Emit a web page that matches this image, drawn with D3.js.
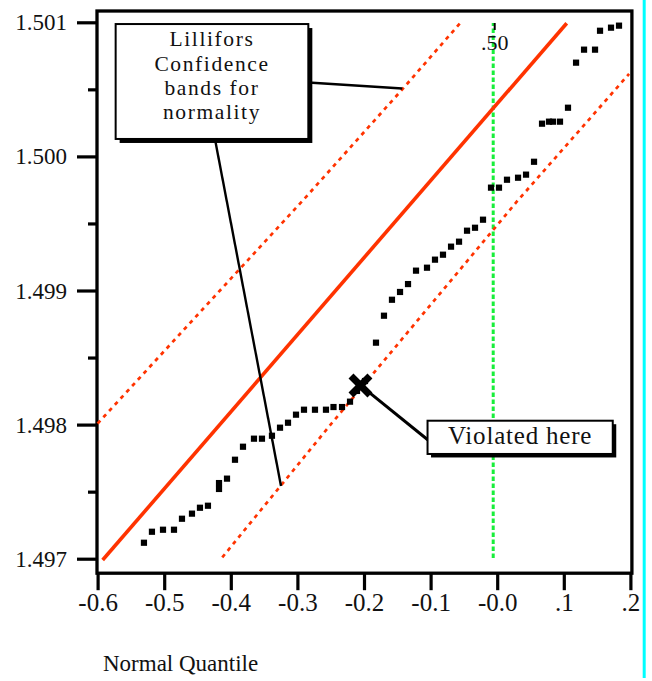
<!DOCTYPE html>
<html>
<head>
<meta charset="utf-8">
<script src="https://cdn.jsdelivr.net/npm/d3@7"></script>
<style>
  html, body { margin: 0; padding: 0; background: #ffffff; }
  svg { display: block; }
</style>
</head>
<body>
<script>
// ---------------- DATA ----------------
const quantiles = [-0.5304,-0.5184,-0.5018,-0.4853,-0.4733,-0.4583,-0.4463,-0.4343,-0.4177,-0.4177,
  -0.4057,-0.3937,-0.3817,-0.3652,-0.3532,-0.3382,-0.3261,-0.3141,-0.3021,-0.2901,
  -0.2736,-0.2571,-0.2458,-0.2330,-0.2210,-0.2105,-0.1985,-0.1820,-0.1700,-0.1580,
  -0.1459,-0.1339,-0.1219,-0.1054,-0.0934,-0.0814,-0.0693,-0.0573,-0.0453,-0.0333,
  -0.0213,-0.0093,0.0027,0.0147,0.0313,0.0433,0.0553,0.0673,0.0778,0.0838,
  0.0943,0.1063,0.1184,0.1304,0.1469,0.1544,0.1709,0.1829];
const values = [1.497119,1.497201,1.497216,1.497216,1.497298,1.497336,1.497380,1.497395,1.497520,1.497564,
  1.497597,1.497738,1.497835,1.497895,1.497895,1.497917,1.497977,1.498014,1.498074,1.498111,
  1.498111,1.498111,1.498131,1.498131,1.498171,1.498251,1.498325,1.498611,1.498812,1.498931,
  1.498989,1.499048,1.499148,1.499170,1.499230,1.499267,1.499327,1.499364,1.499446,1.499468,
  1.499528,1.499767,1.499767,1.499826,1.499841,1.499864,1.499960,1.500244,1.500259,1.500259,
  1.500259,1.500363,1.500699,1.500796,1.500796,1.500937,1.500960,1.500975];

// reference (fitted normal) line
const fitX = [-0.5924, 0.1044];
const fitY = [1.496990, 1.500993];
// Lillifors confidence bands
const upperBandX = [-0.6, -0.2912, -0.1425, -0.0558];
const upperBandY = [1.498008, 1.499675, 1.500500, 1.500993];
const lowerBandX = [-0.4128, -0.2485, 0.0293, 0.1980];
const lowerBandY = [1.497010, 1.498010, 1.499662, 1.500615];
// median (.50) reference line
const medianX = -0.006;
const medianY = [1.497005, 1.500995];
const medianLabel = ".50";
// highlighted violation point
const violX = -0.2053, violY = 1.498292;

const xTickVals = [-0.6,-0.5,-0.4,-0.3,-0.2,-0.1,0,0.1,0.2];
const xTickLabels = ["-0.6","-0.5","-0.4","-0.3","-0.2","-0.1","-0.0",".1",".2"];
const yTickVals = [1.497,1.498,1.499,1.500,1.501];
const yTickLabels = ["1.497","1.498","1.499","1.500","1.501"];
const yMinorTicks = [1.4975,1.4985,1.4995,1.5005];
const xTitle = "Normal Quantile";

const box1Lines = ["Lillifors","Confidence","bands for","normality"];
const box1 = {x0:-0.5729, y0:1.500987, x1:-0.2836, y1:1.500130};
const box1Leaders = [
  {x1:-0.2836, y1:1.500551, x2:-0.1425, y2:1.500506},
  {x1:-0.4238, y1:1.500130, x2:-0.3246, y2:1.497542}
];
const box2Text = "Violated here";
const box2 = {x0:-0.1046, y0:1.498029, x1:0.1735, y1:1.497781};
const box2Leader = {x1:violX, y1:violY, x2:-0.1039, y2:1.497885};

// ---------------- CHART ----------------
const FONT = "'Liberation Serif', 'Times New Roman', serif";
const W = 652, H = 681;
const svg = d3.select("body").append("svg").attr("width", W).attr("height", H)
  .style("font-family", FONT);

const x = d3.scaleLinear().domain([-0.6, 0.2]).range([97.6, 630.4]);
const y = d3.scaleLinear().domain([1.497, 1.501]).range([558.7, 22.3]);

const RED = "#ff3300", GREEN = "#18ee3a";

const fx0 = x(-0.6) - 0.6, fx1 = x(0.2) + 1.5, fy0 = y(1.501) - 11.3, fy1 = y(1.497) + 14.5;

// cyan page line on right
svg.append("line").attr("x1", 644.2).attr("x2", 644.2).attr("y1", 0).attr("y2", 678)
  .attr("stroke", "#00ffff").attr("stroke-width", 3);

function styleText(sel, size) {
  sel.attr("font-family", FONT).style("font-family", FONT).attr("font-size", size).attr("fill", "#111");
}

// y axis ticks
const yAxis = d3.axisLeft(y).tickValues(yTickVals).tickSize(20).tickPadding(10)
  .tickFormat((d, i) => yTickLabels[i]);
const gy = svg.append("g").attr("transform", `translate(${fx0},0)`).call(yAxis).attr("font-family", FONT);
gy.select(".domain").remove();
gy.selectAll(".tick line").attr("stroke", "#000").attr("stroke-width", 3.2);
styleText(gy.selectAll(".tick text"), 23);
gy.selectAll(".tick text").attr("x", -30).attr("dy", "0.33em");

const yMinor = d3.axisLeft(y).tickValues(yMinorTicks).tickSize(9).tickFormat("");
const gym = svg.append("g").attr("transform", `translate(${fx0},0)`).call(yMinor);
gym.select(".domain").remove();
gym.selectAll(".tick line").attr("stroke", "#000").attr("stroke-width", 3.2);

// x axis ticks
const xAxis = d3.axisBottom(x).tickValues(xTickVals).tickSize(17).tickPadding(6)
  .tickFormat((d, i) => xTickLabels[i]);
const gx = svg.append("g").attr("transform", `translate(0,${fy1})`).call(xAxis).attr("font-family", FONT);
gx.select(".domain").remove();
gx.selectAll(".tick line").attr("stroke", "#000").attr("stroke-width", 3.2);
styleText(gx.selectAll(".tick text"), 25);
gx.selectAll(".tick text").attr("y", 38).attr("dy", 0);

// frame
svg.append("rect").attr("x", fx0).attr("y", fy0).attr("width", fx1 - fx0).attr("height", fy1 - fy0)
  .attr("fill", "none").attr("stroke", "#000").attr("stroke-width", 3.3);

// median line
svg.append("line").attr("x1", x(medianX)).attr("x2", x(medianX))
  .attr("y1", y(medianY[0])).attr("y2", y(medianY[1]))
  .attr("stroke", GREEN).attr("stroke-width", 3).attr("stroke-dasharray", "4.5,2.5");
svg.append("line").attr("x1", x(medianX) + 1.5).attr("x2", x(medianX) + 1.5)
  .attr("y1", y(medianY[1])).attr("y2", y(medianY[1]) + 7)
  .attr("stroke", "#000").attr("stroke-width", 2);
styleText(svg.append("text").attr("x", x(medianX) + 1.5).attr("y", y(medianY[1]) + 27.5)
  .attr("text-anchor", "middle").text(medianLabel), 22);

const line = d3.line().x(d => x(d[0])).y(d => y(d[1]));

// bands
svg.append("path").datum(upperBandX.map((v, i) => [v, upperBandY[i]])).attr("d", line)
  .attr("fill", "none").attr("stroke", RED).attr("stroke-width", 2.7).attr("stroke-dasharray", "4,4.5");
svg.append("path").datum(lowerBandX.map((v, i) => [v, lowerBandY[i]])).attr("d", line)
  .attr("fill", "none").attr("stroke", RED).attr("stroke-width", 2.7).attr("stroke-dasharray", "4,4.5");
// fit line
svg.append("path").datum(fitX.map((v, i) => [v, fitY[i]])).attr("d", line)
  .attr("fill", "none").attr("stroke", RED).attr("stroke-width", 3.6);

// leaders
function leader(l, w) {
  svg.append("line").attr("x1", x(l.x1)).attr("y1", y(l.y1)).attr("x2", x(l.x2)).attr("y2", y(l.y2))
    .attr("stroke", "#000").attr("stroke-width", w);
}
box1Leaders.forEach(l => leader(l, 2.4));
leader(box2Leader, 3);

// points
const pts = quantiles.map((q, i) => [q, values[i]]);
const S = 6.2;
svg.append("g").selectAll("rect").data(pts).join("rect")
  .attr("x", d => x(d[0]) - S / 2).attr("y", d => y(d[1]) - S / 2)
  .attr("width", S).attr("height", S).attr("fill", "#000");

// violation X marker
const vx = x(violX), vy = y(violY), a = 7;
svg.append("path")
  .attr("d", `M${vx - a},${vy - a}L${vx + a},${vy + a}M${vx - a},${vy + a}L${vx + a},${vy - a}`)
  .attr("stroke", "#000").attr("stroke-width", 7).attr("stroke-linecap", "square").attr("fill", "none");

// boxes
function box(b, off) {
  const bx = x(b.x0), by = y(b.y0), bw = x(b.x1) - x(b.x0), bh = y(b.y1) - y(b.y0);
  svg.append("rect").attr("x", bx + off).attr("y", by + off).attr("width", bw).attr("height", bh).attr("fill", "#000");
  svg.append("rect").attr("x", bx).attr("y", by).attr("width", bw).attr("height", bh)
    .attr("fill", "#fff").attr("stroke", "#000").attr("stroke-width", 2);
  return {bx, by, bw, bh};
}
const b1 = box(box1, 4);
svg.append("g").selectAll("text").data(box1Lines).join("text")
  .attr("x", b1.bx + b1.bw / 2).attr("y", (d, i) => b1.by + 22.2 + i * 24.4)
  .attr("text-anchor", "middle").attr("letter-spacing", 1.6).text(d => d)
  .call(s => styleText(s, 21.5));

const b2 = box(box2, 3.5);
styleText(svg.append("text").attr("x", b2.bx + b2.bw / 2).attr("y", b2.by + 23)
  .attr("text-anchor", "middle").attr("letter-spacing", 0.8).text(box2Text), 25);

// x title
styleText(svg.append("text").attr("x", 103).attr("y", 671).text(xTitle), 23);
</script>
</body>
</html>
